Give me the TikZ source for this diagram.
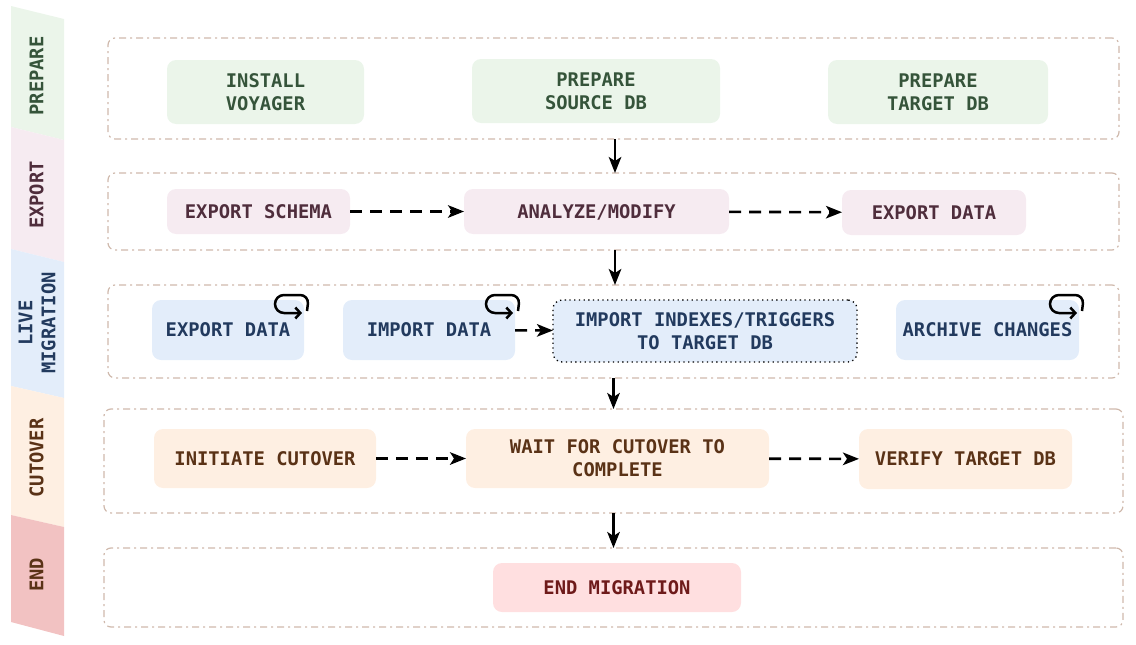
\documentclass[tikz,border=0pt]{standalone}
\usepackage{fontspec}
\setmonofont{DejaVu Sans Mono}
\usetikzlibrary{arrows.meta}
\definecolor{greenfill}{HTML}{EBF5EA}
\definecolor{greentext}{HTML}{35543A}
\definecolor{pinkfill}{HTML}{F6EBF1}
\definecolor{pinktext}{HTML}{4F2D3C}
\definecolor{bluefill}{HTML}{E3EDFA}
\definecolor{bluetext}{HTML}{223A5E}
\definecolor{orangefill}{HTML}{FEEFE2}
\definecolor{orangetext}{HTML}{5A3216}
\definecolor{redlane}{HTML}{F2C2C2}
\definecolor{redfill}{HTML}{FFDFE0}
\definecolor{redtext}{HTML}{6E1A1A}
\definecolor{framecolor}{HTML}{CFB9AC}
\newcommand{\retryloop}[1]{\draw[retry] ([shift={(3,11)}]#1.north east) -- ++(2,-16) -- ++(-34,0) -- ++(0,18) -- ++(27,0);}

\begin{document}
\begin{tikzpicture}[x=1pt,y=-1pt,
   every node/.style={font=\ttfamily\bfseries\fontsize{18.8}{23}\selectfont,align=center,inner sep=0pt,outer sep=0pt,text depth=-2pt},
   frame/.style={draw=framecolor,line width=1.2pt,rounded corners=7pt,dash pattern=on 7pt off 4pt on 2pt off 4pt},
   taskbox/.style={rounded corners=9pt},
   flow/.style={-{Stealth[length=16pt,width=12.5pt,inset=4pt]},line width=2.6pt},
   dashflow/.style={flow,dash pattern=on 12pt off 8pt},
   retry/.style={-{Straight Barb[length=5pt,width=11pt]},line width=2.5pt,rounded corners=9pt}]
\useasboundingbox (0,0) rectangle (1136,645);

% lanes
\fill[greenfill] (11,6) -- (64,19) -- (64,140) -- (11,127) -- cycle;
\fill[pinkfill] (11,127) -- (64,140) -- (64,262) -- (11,249) -- cycle;
\fill[bluefill] (11,249) -- (64,262) -- (64,398) -- (11,386) -- cycle;
\fill[orangefill] (11,386) -- (64,398) -- (64,527) -- (11,515) -- cycle;
\fill[redlane] (11,515) -- (64,527) -- (64,636) -- (11,622) -- cycle;
\node[rotate=90,text=greentext] (lane prepare) at (36.5,76) {PREPARE};
\node[rotate=90,text=pinktext] (lane export) at (36.5,195) {EXPORT};
\node[rotate=90,text=bluetext] (lane live) at (37,323) {LIVE\\MIGRATION};
\node[rotate=90,text=orangetext] (lane cutover) at (36.5,458) {CUTOVER};
\node[rotate=90,text=orangetext] (lane end) at (36.5,575) {END};

% frames
\node[frame,minimum width=1011pt,minimum height=101pt] (prepare) at (613.5,88.5) {};
\node[frame,minimum width=1011pt,minimum height=77pt] (export) at (613.5,211.5) {};
\node[frame,minimum width=1011pt,minimum height=93pt] (live) at (613.5,331.5) {};
\node[frame,minimum width=1019pt,minimum height=104pt] (cutover) at (613.5,461) {};
\node[frame,minimum width=1019pt,minimum height=79pt] (end) at (613.5,587.5) {};

% prepare
\node[taskbox,fill=greenfill,text=greentext,minimum width=197pt,minimum height=64pt] (install) at (265.5,92) {INSTALL\\VOYAGER};
\node[taskbox,fill=greenfill,text=greentext,minimum width=248pt,minimum height=64pt] (source) at (596,91) {PREPARE\\SOURCE DB};
\node[taskbox,fill=greenfill,text=greentext,minimum width=220pt,minimum height=64pt] (target) at (938,92) {PREPARE\\TARGET DB};

% export
\node[taskbox,fill=pinkfill,text=pinktext,minimum width=183pt,minimum height=45pt] (schema) at (258.5,211.5) {EXPORT SCHEMA};
\node[taskbox,fill=pinkfill,text=pinktext,minimum width=265pt,minimum height=45pt] (analyze) at (596.5,211.5) {ANALYZE/MODIFY};
\node[taskbox,fill=pinkfill,text=pinktext,minimum width=184pt,minimum height=45pt] (exportdata) at (934,212.5) {EXPORT DATA};

% live migration
\node[taskbox,fill=bluefill,text=bluetext,minimum width=152pt,minimum height=60pt] (livedata) at (228,330) {EXPORT DATA};
\node[taskbox,fill=bluefill,text=bluetext,minimum width=172pt,minimum height=60pt] (importdata) at (429,330) {IMPORT DATA};
\node[taskbox,fill=bluefill,text=bluetext,draw=black,line width=1.3pt,dash pattern=on 1.3pt off 3.4pt,minimum width=304pt,minimum height=62pt] (indexes) at (705,331) {IMPORT INDEXES/TRIGGERS\\TO TARGET DB};
\node[taskbox,fill=bluefill,text=bluetext,minimum width=183pt,minimum height=60pt] (archive) at (987.5,330) {ARCHIVE CHANGES};

% cutover
\node[taskbox,fill=orangefill,text=orangetext,minimum width=222pt,minimum height=59pt] (initiate) at (265,458.5) {INITIATE CUTOVER};
\node[taskbox,fill=orangefill,text=orangetext,minimum width=303pt,minimum height=59pt] (wait) at (617.5,458.5) {WAIT FOR CUTOVER TO\\COMPLETE};
\node[taskbox,fill=orangefill,text=orangetext,minimum width=213pt,minimum height=60pt] (verify) at (965.5,459) {VERIFY TARGET DB};

% end
\node[taskbox,fill=redfill,text=redtext,minimum width=248pt,minimum height=49pt] (endmigration) at (617,587.5) {END MIGRATION};

\draw[dashflow] (schema) -- (analyze);
\draw[dashflow] (analyze) -- (exportdata);
\draw[dashflow] (importdata) -- (indexes);
\draw[dashflow] (initiate) -- (wait);
\draw[dashflow] (wait) -- (verify);

\draw[flow] ([xshift=1.5pt]prepare.south) -- ([xshift=1.5pt]export.north);
\draw[flow] ([xshift=1.5pt]export.south) -- ([xshift=1.5pt]live.north);
\draw[flow] (live.south) -- (cutover.north);
\draw[flow] (cutover.south) -- (end.north);

\retryloop{livedata}
\retryloop{importdata}
\retryloop{archive}
\end{tikzpicture}
\end{document}
